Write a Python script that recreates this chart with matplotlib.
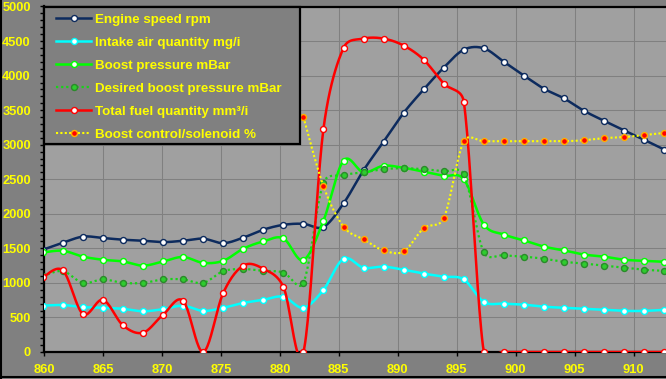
import numpy as np
import matplotlib
matplotlib.use("Agg")
import matplotlib.pyplot as plt
from matplotlib.lines import Line2D
from matplotlib.legend_handler import HandlerLine2D

nan = np.nan

time = [859.9, 861.6, 863.3, 865.0, 866.7, 868.4, 870.1, 871.8, 873.5, 875.2,
        876.9, 878.6, 880.3, 882.0, 883.7, 885.4, 887.1, 888.8, 890.5, 892.2,
        893.9, 895.6, 897.3, 899.0, 900.7, 902.4, 904.1, 905.8, 907.5, 909.2,
        910.9, 912.6]

engine_rpm = [1480, 1580, 1670, 1650, 1625, 1610, 1590, 1610, 1640, 1575,
              1655, 1770, 1840, 1855, 1810, 2150, 2630, 3045, 3460, 3800,
              4115, 4375, 4395, 4200, 4000, 3810, 3670, 3490, 3345, 3205,
              3070, 2930]

intake_air = [670, 680, 650, 640, 625, 590, 620, 670, 595, 640,
              710, 755, 800, 640, 900, 1350, 1220, 1235, 1190, 1135,
              1090, 1050, 725, 700, 685, 655, 640, 625, 610, 595,
              595, 610]

boost = [1440, 1465, 1380, 1335, 1310, 1250, 1310, 1375, 1290, 1320,
         1495, 1600, 1645, 1330, 1900, 2770, 2600, 2695, 2665, 2610,
         2550, 2500, 1845, 1700, 1615, 1525, 1470, 1410, 1380, 1335,
         1320, 1305]

desired_boost = [1100, 1170, 1000, 1050, 1000, 1000, 1050, 1050, 1000, 1170,
                 1200, 1175, 1150, 1000, 2450, 2560, 2600, 2645, 2660, 2645,
                 2615, 2570, 1440, 1400, 1380, 1350, 1305, 1280, 1250, 1220,
                 1190, 1175]

fuel = [1080, 1180, 550, 755, 385, 280, 540, 740, 0, 855,
        1250, 1205, 945, 0, 3230, 4400, 4535, 4535, 4435, 4230,
        3885, 3620, 0, 0, 0, 0, 0, 0, 0, 0,
        0, 0]

solenoid = [nan, nan, nan, nan, nan, nan, nan, nan, nan, nan,
            nan, nan, nan, 3400, 2400, 1815, 1630, 1470, 1455, 1790,
            1935, 3050, 3050, 3050, 3050, 3050, 3050, 3065, 3095, 3110,
            3140, 3170]

labels = ["Engine speed rpm", "Intake air quantity mg/i", "Boost pressure mBar",
          "Desired boost pressure mBar", "Total fuel quantity mm\u00b3/i",
          "Boost control/solenoid %"]

x_ticks = [860, 865, 870, 875, 880, 885, 890, 895, 900, 905, 910]
y_ticks = [0, 500, 1000, 1500, 2000, 2500, 3000, 3500, 4000, 4500, 5000]

W, H = 666, 379
L, R, T, B = 44, 666, 6.5, 352
XMIN, XMAX = 860, 912.75
YMIN, YMAX = 0, 5000
SX = (R - L) / (XMAX - XMIN)
SY = (B - T) / (YMAX - YMIN)


def smooth(x, y, n=24, clamp=0.5):
    x = np.asarray(x, float)
    y = np.asarray(y, float)
    idx = np.where(~np.isnan(y))[0]
    P = np.column_stack([x[idx] * SX, y[idx] * SY])
    m = len(P)
    t = np.linspace(0, 1, n)[:, None]
    out = []

    def arm(v, seglen):
        ln = np.hypot(v[0], v[1])
        lim = clamp * seglen
        return v * (lim / ln) if ln > lim and ln > 0 else v

    for i in range(m - 1):
        p0 = P[i - 1] if i > 0 else P[i]
        p1, p2 = P[i], P[i + 1]
        p3 = P[i + 2] if i + 2 < m else P[i + 1]
        seglen = np.hypot(*(p2 - p1))
        c1 = p1 + arm((p2 - p0) / 6.0, seglen)
        c2 = p2 - arm((p3 - p1) / 6.0, seglen)
        seg = ((1 - t) ** 3) * p1 + 3 * ((1 - t) ** 2) * t * c1 + 3 * (1 - t) * t ** 2 * c2 + t ** 3 * p2
        out.append(seg if i == 0 else seg[1:])
    S = np.vstack(out)
    return S[:, 0] / SX, S[:, 1] / SY


class PadHandler(HandlerLine2D):
    def __init__(self, lead, **kw):
        super().__init__(**kw)
        self.lead = lead

    def create_artists(self, legend, orig_handle, xdescent, ydescent, width, height, fontsize, trans):
        arts = super().create_artists(legend, orig_handle, xdescent, ydescent, width, height, fontsize, trans)
        for a in arts:
            xd = np.asarray(a.get_xdata(), float)
            a.set_xdata(-xdescent + self.lead + (xd + xdescent) * (width - self.lead) / width)
        return arts


FIG_BG = "#808080"
PLOT_BG = "#a0a0a0"
YEL = "#ffff00"
font = dict(family="Liberation Sans", weight="bold", size=9.3)
lfont = dict(family="Liberation Sans", weight="bold", size=9.6)

fig = plt.figure(figsize=(W / 100, H / 100), dpi=100, facecolor=FIG_BG)
ax = fig.add_axes([L / W, (H - B) / H, (R - L) / W, (B - T) / H])
ax.set_facecolor(PLOT_BG)
ax.set_xlim(XMIN, XMAX)
ax.set_ylim(YMIN, YMAX)

styles = [
    dict(color="#0d2b5e", ls="-", lw=1.8, mfc="white", mec="#0d2b5e"),
    dict(color="#00ffff", ls="-", lw=1.8, mfc="white", mec="#00ffff"),
    dict(color="#00ff00", ls="-", lw=1.8, mfc="white", mec="#00ff00"),
    dict(color="#19d219", ls=(0, (1, 1.3)), lw=1.6, mfc="#2ecc2e", mec="#2a8a2a"),
    dict(color="#ff0000", ls="-", lw=1.8, mfc="white", mec="#ff0000"),
    dict(color="#ffff00", ls=(0, (1, 1.1)), lw=1.5, mfc="#ff0000", mec="#ffb000"),
]
series = [engine_rpm, intake_air, boost, desired_boost, fuel, solenoid]

handles = []
for k, (vals, st, lab) in enumerate(zip(series, styles, labels)):
    sx_, sy_ = smooth(time, vals)
    z = 3 + k
    ax.plot(sx_, sy_, color=st["color"], ls=st["ls"], lw=st["lw"], zorder=z,
            solid_capstyle="round")
    ax.plot(time, vals, ls="none", marker="o", ms=4.3, mfc=st["mfc"], mec=st["mec"],
            mew=1.0, zorder=z + 0.5)
    handles.append(Line2D([], [], color=st["color"], ls=st["ls"], lw=st["lw"], marker="o",
                          ms=4.3, mfc=st["mfc"], mec=st["mec"], mew=1.0, label=lab))

ax.set_xticks(x_ticks)
ax.set_yticks(y_ticks)
ax.set_yticks(np.arange(0, 5001, 100), minor=True)
ax.set_xticklabels([str(v) for v in x_ticks], **font)
ax.set_yticklabels([str(v) for v in y_ticks], **font)
ax.tick_params(axis="both", which="both", direction="out", color="black",
               labelcolor=YEL, width=1.0)
ax.tick_params(axis="y", which="major", length=3, pad=6.5)
ax.tick_params(axis="y", which="minor", length=3)
ax.tick_params(axis="x", which="major", length=3, pad=5.5)

ax.grid(True, which="major", color="#808080", lw=0.75)
ax.set_axisbelow(True)

for side in ["left", "bottom", "top"]:
    ax.spines[side].set_color("black")
    ax.spines[side].set_linewidth(1.6)
ax.spines["right"].set_visible(False)

leg = ax.legend(handles=handles, loc="upper left", bbox_to_anchor=(0, 0, 256 / (R - L), 1),
                mode="expand", borderaxespad=0, borderpad=0.25, labelspacing=0.53,
                handlelength=3.3, handletextpad=0.25, prop=lfont, labelcolor=YEL,
                facecolor=FIG_BG, edgecolor="black", framealpha=1, fancybox=False,
                handler_map={Line2D: PadHandler(6.5)})
leg.get_frame().set_linewidth(1.6)
leg.set_zorder(20)
# raise the top of each handle box so the text sits lower inside its row
try:
    for col in leg._legend_handle_box.get_children():
        for row in col.get_children():
            da = row.get_children()[0]
            da.height = 9.3
except Exception:
    pass

fig.add_artist(Line2D([0.6 / W, 0.6 / W], [0, 1], transform=fig.transFigure, color="black", lw=1.5))
fig.add_artist(Line2D([0, 1], [2.2 / H, 2.2 / H], transform=fig.transFigure, color="black", lw=1.5))

fig.savefig("out.png", dpi=100, facecolor=FIG_BG)
